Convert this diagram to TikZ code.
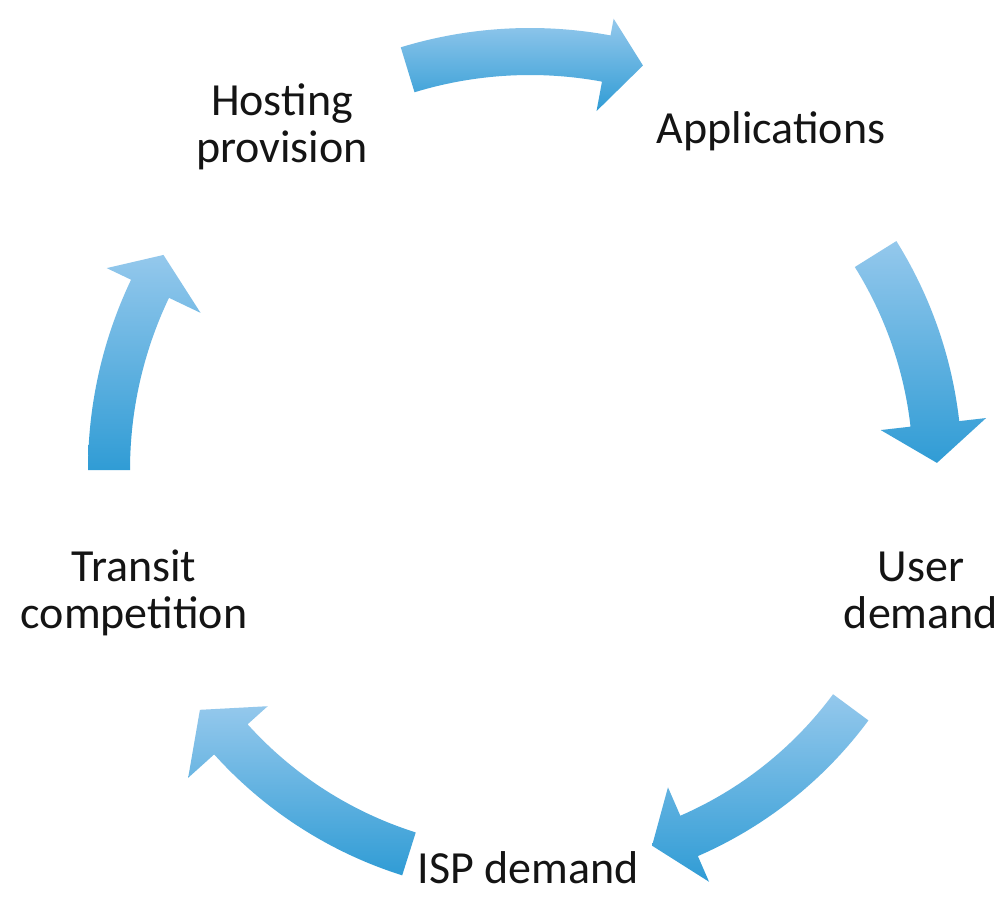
\documentclass[tikz,border=0pt]{standalone}
\usepackage{fontspec}
\setmainfont{Carlito}
\definecolor{arrowlight}{RGB}{148,200,236}
\definecolor{arrowdark}{RGB}{48,156,213}
\definecolor{textcol}{RGB}{20,20,20}
% #1 tail angle, #2 head-base angle, #3 tip angle, #4 band inner r, #5 band outer r,
% #6 head inner r, #7 head outer r, #8 tip r
\newcommand\cyclearrow[8]{%
  \shade[arrowshade] (#1:#4pt) arc[start angle=#1, end angle=#2, radius=#4pt]
    -- (#2:#6pt) -- (#3:#8pt) -- (#2:#7pt) -- (#2:#5pt)
    arc[start angle=#2, end angle=#1, radius=#5pt] -- cycle;}
\begin{document}
\begin{tikzpicture}[x=1pt,y=1pt,
  arrowshade/.style={top color=arrowlight, bottom color=arrowdark, draw=none},
  lbl/.style={font=\fontsize{46}{47}\selectfont, text=textcol, align=center,
              inner sep=0pt, anchor=base}]
\fill[white] (0,0) rectangle (1008,-902);
\useasboundingbox (0,0) rectangle (1008,-902);
\begin{scope}[shift={(530,-470)}]
  \cyclearrow{107}{79.5}{74.4}{395}{442}{365}{459}{420}
  \cyclearrow{32}{6.5}{1}{383}{432}{353}{459}{407}
  \cyclearrow{-36.5}{-66.5}{-72}{377}{421}{346}{449}{395}
  \cyclearrow{-107.5}{-138}{-144}{380}{425}{353}{460}{408}
  \cyclearrow{180}{154.5}{149.6}{400}{442}{365}{469}{425}
\end{scope}
% base anchor of a two-line node sits on its last line
\node[lbl] (host) at (282,-162) {Hosting\\provision};
\node[lbl] (app) at (771,-143) {Applications};
\node[lbl] (user) at (921,-628) {User\\demand};
\node[lbl] (isp) at (528,-883) {ISP demand};
\node[lbl] (transit) at (134,-628) {Transit\\competition};
\end{tikzpicture}
\end{document}
